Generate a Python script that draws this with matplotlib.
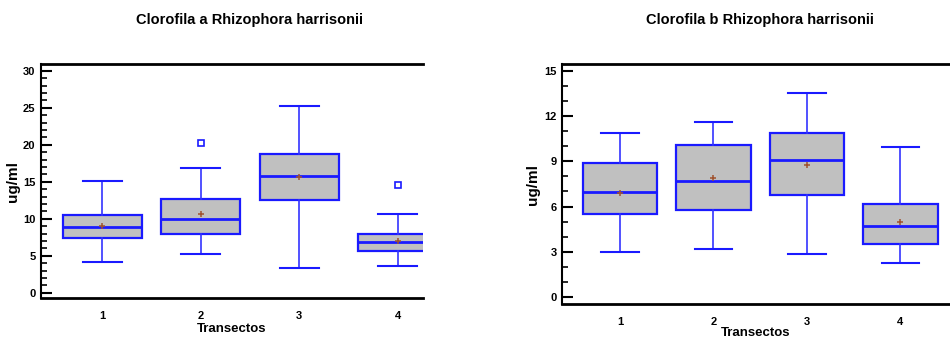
import matplotlib
matplotlib.use("Agg")
import matplotlib.pyplot as plt
from matplotlib.ticker import MultipleLocator

plt.rcParams['font.family'] = ['Liberation Sans', 'DejaVu Sans']
plt.rcParams['font.weight'] = 'bold'

groups = [1, 2, 3, 4]

# Clorofila a
a_whislo = [4.1, 5.3, 3.4, 3.6]
a_q1 = [7.35, 7.9, 12.6, 5.65]
a_med = [8.95, 9.95, 15.8, 6.85]
a_q3 = [10.45, 12.7, 18.8, 7.9]
a_whishi = [15.1, 16.8, 25.3, 10.65]
a_mean = [9.05, 10.6, 15.6, 7.0]
a_fliers = [[], [20.2], [], [14.6]]

# Clorofila b
b_whislo = [3.0, 3.18, 2.83, 2.23]
b_q1 = [5.5, 5.75, 6.78, 3.52]
b_med = [6.96, 7.71, 9.1, 4.73]
b_q3 = [8.9, 10.1, 10.9, 6.16]
b_whishi = [10.9, 11.6, 13.55, 9.94]
b_mean = [6.87, 7.9, 8.73, 4.97]
b_fliers = [[], [], [], []]

blue = '#1a1aff'


def make_stats(lo, q1, med, q3, hi, mean, fl):
    return [dict(whislo=lo[i], q1=q1[i], med=med[i], q3=q3[i], whishi=hi[i],
                 mean=mean[i], fliers=fl[i]) for i in range(len(lo))]


def draw(ax, stats, ylim, xlim, major, minor, ylab_pad, xlab_pad):
    ax.bxp(stats, positions=groups, widths=0.8, patch_artist=True,
           showmeans=True, showfliers=True,
           boxprops=dict(facecolor='#c0c0c0', edgecolor=blue, linewidth=1.6),
           medianprops=dict(color=blue, linewidth=2.0),
           whiskerprops=dict(color='#3333ff', linewidth=1.2),
           capprops=dict(color=blue, linewidth=1.5),
           meanprops=dict(marker='+', markeredgecolor='#a0522d', markersize=5,
                          markeredgewidth=1.1),
           flierprops=dict(marker='s', markerfacecolor='white',
                           markeredgecolor=blue, markersize=4.5, markeredgewidth=1.2))
    ax.set_xlim(*xlim)
    ax.set_ylim(*ylim)
    ax.yaxis.set_major_locator(MultipleLocator(major))
    ax.yaxis.set_minor_locator(MultipleLocator(minor))
    ax.tick_params(axis='y', which='major', direction='in', length=8, width=1.5,
                   labelsize=8, pad=4)
    ax.tick_params(axis='y', which='minor', direction='in', length=4, width=1.2)
    ax.tick_params(axis='x', length=0, labelsize=8, pad=9)
    ax.set_xticks(groups)
    ax.set_xticklabels([str(g) for g in groups])
    for lab in ax.get_xticklabels() + ax.get_yticklabels():
        lab.set_fontweight('bold')
    ax.spines['right'].set_visible(False)
    ax.spines['top'].set_linewidth(2)
    ax.spines['bottom'].set_linewidth(2)
    ax.spines['left'].set_linewidth(1.5)
    ax.set_ylabel('ug/ml', fontsize=11, fontweight='bold', labelpad=ylab_pad)
    ax.set_xlabel('Transectos', fontsize=9.5, fontweight='bold', labelpad=xlab_pad)


fig = plt.figure(figsize=(9.5, 3.39), dpi=100)

ax1 = fig.add_axes([0.0432, 0.1209, 0.402, 0.690])
draw(ax1, make_stats(a_whislo, a_q1, a_med, a_q3, a_whishi, a_mean, a_fliers),
     (-0.7, 30.9), (0.378, 4.256), 5, 1, 2, 2)

ax2 = fig.add_axes([0.5919, 0.1032, 0.408, 0.708])
draw(ax2, make_stats(b_whislo, b_q1, b_med, b_q3, b_whishi, b_mean, b_fliers),
     (-0.46, 15.44), (0.382, 4.53), 3, 1, 3, 0)

fig.text(250 / 950, 1 - 20 / 339, 'Clorofila a Rhizophora harrisonii',
         ha='center', va='center', fontsize=10.5, fontweight='bold')
fig.text(760 / 950, 1 - 20 / 339, 'Clorofila b Rhizophora harrisonii',
         ha='center', va='center', fontsize=10.5, fontweight='bold')

fig.savefig('out.png', dpi=100)
